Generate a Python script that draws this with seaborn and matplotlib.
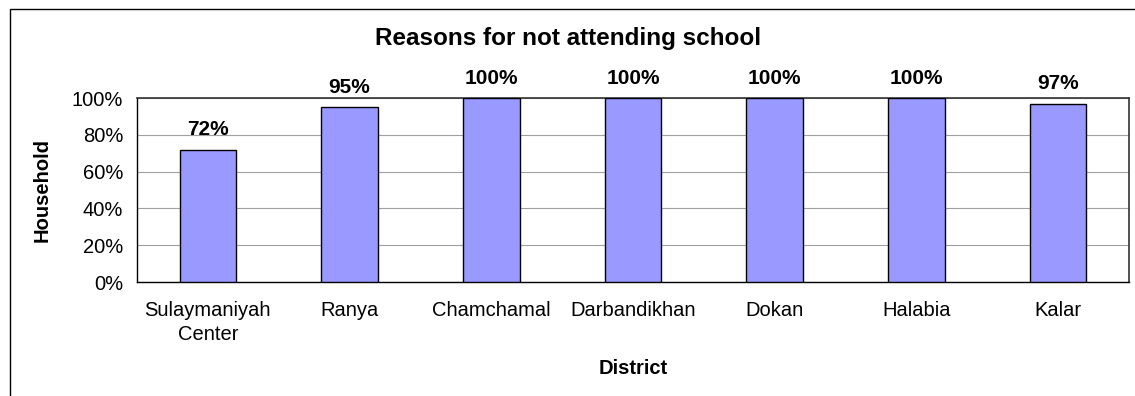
import matplotlib
matplotlib.use("Agg")
import matplotlib.pyplot as plt
from matplotlib.patches import Rectangle
from matplotlib.ticker import FixedLocator, PercentFormatter
import seaborn as sns
import pandas as pd

districts = ["Sulaymaniyah\nCenter", "Ranya", "Chamchamal", "Darbandikhan",
             "Dokan", "Halabia", "Kalar"]
households = [72, 95, 100, 100, 100, 100, 97]

sns.set_style("white")
plt.rcParams["font.family"] = ["Liberation Sans", "DejaVu Sans"]
for key in ["text.color", "axes.labelcolor", "xtick.color", "ytick.color"]:
    plt.rcParams[key] = "black"

df = pd.DataFrame({"District": districts, "Household": households})

fig = plt.figure(figsize=(11.35, 3.96), dpi=100)
ax = fig.add_axes([137 / 1135, 1 - 282 / 396, (1129 - 137) / 1135, (282 - 98) / 396])

sns.barplot(data=df, x="District", y="Household", color="#9999FF",
            saturation=1, width=0.40, edgecolor="black", linewidth=1.0,
            ax=ax, zorder=3)

ax.set_ylim(0, 100)
ax.set_xlim(-0.5, len(districts) - 0.5)
ax.yaxis.set_major_locator(FixedLocator([0, 20, 40, 60, 80, 100]))
ax.yaxis.set_major_formatter(PercentFormatter(decimals=0))
ax.grid(axis="y", color="#A0A0A0", linewidth=0.8, zorder=0)
ax.set_axisbelow(True)

# ticks between categories on x, outward ticks on y
ax.set_xticks(range(len(districts)))
ax.set_xticklabels(districts, fontsize=14.5, linespacing=1.3)
ax.tick_params(axis="x", length=0, pad=14)
ax.set_xticks([i + 0.5 for i in range(-1, len(districts))], minor=True)
ax.tick_params(axis="x", which="minor", length=5, width=0.8, color="black",
               direction="out")
ax.tick_params(axis="y", length=5, width=0.8, color="black", direction="out",
               labelsize=14.5, pad=5)

for side in ["left", "bottom"]:
    ax.spines[side].set_color("black")
    ax.spines[side].set_linewidth(1.0)
for side in ["top", "right"]:
    ax.spines[side].set_color("#333333")
    ax.spines[side].set_linewidth(1.2)

for i, v in enumerate(households):
    ax.annotate(f"{v}%", (i, v), xytext=(0, 7.5), textcoords="offset points",
                ha="center", va="bottom", fontsize=15, fontweight="bold")

ax.set_xlabel("District", fontsize=14.5, fontweight="bold")
ax.xaxis.set_label_coords(0.5, (282 - 369) / 184)
ax.xaxis.label.set_va("center")
ax.set_ylabel("Household", fontsize=14.5, fontweight="bold")
ax.yaxis.set_label_coords((42 - 137) / 992, 0.5)
ax.yaxis.label.set_va("center")
fig.text(568 / 1135, 1 - 39 / 396, "Reasons for not attending school",
         ha="center", va="center", fontsize=17.5, fontweight="bold")

# outer chart frame
fig.patches.append(Rectangle((10 / 1135, -0.1), 1.2, 1 - 9 / 396 + 0.1,
                             transform=fig.transFigure, fill=False,
                             edgecolor="black", linewidth=1.0))

fig.savefig("out.png", dpi=100)
